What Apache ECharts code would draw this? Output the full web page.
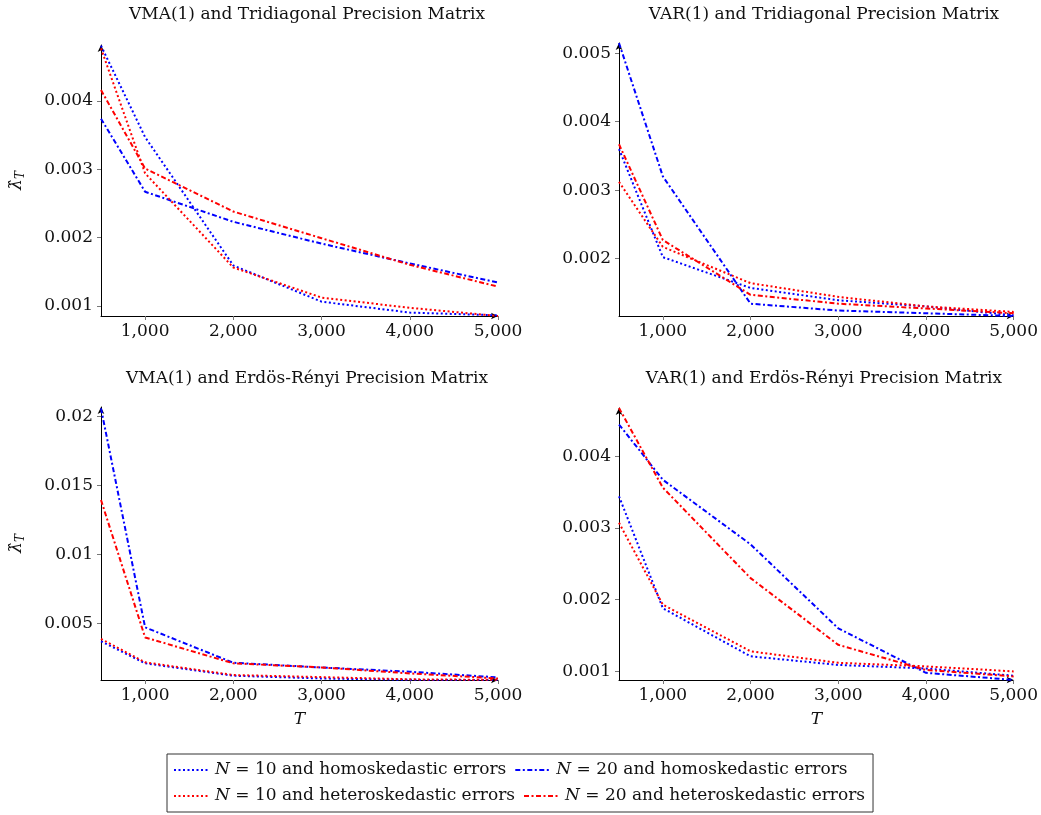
<!DOCTYPE html>
<html>
<head>
<meta charset="utf-8">
<script src="https://cdn.jsdelivr.net/npm/echarts@6/dist/echarts.min.js"></script>
<style>
html,body{margin:0;padding:0;background:#fff;}
#chart{width:1041px;height:815px;}
</style>
</head>
<body>
<div id="chart"></div>
<script>
// ---- data ----
const T = [500, 1000, 2000, 3000, 4000, 5000];
const xTicks = [1000, 2000, 3000, 4000, 5000];

const seriesNames = [
  'N = 10 and homoskedastic errors',
  'N = 20 and homoskedastic errors',
  'N = 10 and heteroskedastic errors',
  'N = 20 and heteroskedastic errors'
];

const panelTitles = [
  'VMA(1) and Tridiagonal Precision Matrix',
  'VAR(1) and Tridiagonal Precision Matrix',
  'VMA(1) and Erdös-Rényi Precision Matrix',
  'VAR(1) and Erdös-Rényi Precision Matrix'
];

// VMA(1), tridiagonal
const vmaTri_N10homo = [0.00481, 0.00347, 0.00159, 0.00106, 0.00090, 0.00086];
const vmaTri_N20homo = [0.00374, 0.00267, 0.00223, 0.00191, 0.00162, 0.00134];
const vmaTri_N10het  = [0.00477, 0.00294, 0.00156, 0.00112, 0.00097, 0.00085];
const vmaTri_N20het  = [0.00416, 0.00301, 0.00238, 0.00199, 0.00160, 0.00128];
// VAR(1), tridiagonal
const varTri_N10homo = [0.00360, 0.00202, 0.00157, 0.00139, 0.00130, 0.00117];
const varTri_N20homo = [0.00515, 0.00320, 0.00134, 0.00124, 0.00120, 0.00116];
const varTri_N10het  = [0.00312, 0.00217, 0.00164, 0.00144, 0.00130, 0.00122];
const varTri_N20het  = [0.00367, 0.00227, 0.00147, 0.00134, 0.00127, 0.00120];
// VMA(1), Erdös-Rényi
const vmaER_N10homo = [0.00370, 0.00210, 0.00120, 0.00100, 0.00090, 0.00089];
const vmaER_N20homo = [0.02060, 0.00471, 0.00214, 0.00180, 0.00149, 0.00108];
const vmaER_N10het  = [0.00387, 0.00217, 0.00125, 0.00110, 0.00094, 0.00090];
const vmaER_N20het  = [0.01395, 0.00398, 0.00210, 0.00180, 0.00137, 0.00100];
// VAR(1), Erdös-Rényi
const varER_N10homo = [0.00344, 0.00188, 0.00121, 0.00109, 0.00104, 0.00094];
const varER_N20homo = [0.00444, 0.00367, 0.00277, 0.00160, 0.00098, 0.00088];
const varER_N10het  = [0.00307, 0.00193, 0.00128, 0.00112, 0.00107, 0.00100];
const varER_N20het  = [0.00467, 0.00356, 0.00230, 0.00137, 0.00102, 0.00093];

const yTicksTL = [0.001, 0.002, 0.003, 0.004];
const yTicksTR = [0.002, 0.003, 0.004, 0.005];
const yTicksBL = [0.005, 0.01, 0.015, 0.02];
const yTicksBR = [0.001, 0.002, 0.003, 0.004];

const yRangeTL = [0.00085, 0.00482];
const yRangeTR = [0.00116, 0.00515];
const yRangeBL = [0.00089, 0.0207];
const yRangeBR = [0.00088, 0.00467];

// ---- chart ----
const FONT = 'DejaVu Serif';
const FS = 17;
const panels = [
  {data: [vmaTri_N10homo, vmaTri_N20homo, vmaTri_N10het, vmaTri_N20het], ticks: yTicksTL, range: yRangeTL,
   grid: {left: 101, top: 45, width: 397, height: 271}, ylab: true, xlab: false, title: [302, 1]},
  {data: [varTri_N10homo, varTri_N20homo, varTri_N10het, varTri_N20het], ticks: yTicksTR, range: yRangeTR,
   grid: {left: 619, top: 43, width: 397, height: 273}, ylab: false, xlab: false, title: [819, 1]},
  {data: [vmaER_N10homo, vmaER_N20homo, vmaER_N10het, vmaER_N20het], ticks: yTicksBL, range: yRangeBL,
   grid: {left: 101, top: 407, width: 397, height: 273}, ylab: true, xlab: true, title: [302, 365]},
  {data: [varER_N10homo, varER_N20homo, varER_N10het, varER_N20het], ticks: yTicksBR, range: yRangeBR,
   grid: {left: 619, top: 408, width: 397, height: 272}, ylab: false, xlab: true, title: [819, 365]}
];

const colors = ['#0000ff', '#0000ff', '#ff0000', '#ff0000'];
const dotted = [2, 2.5];
const dashdot = [5, 2.5, 2, 2.5];
const types = [dotted, dashdot, dotted, dashdot];

const grids = [], xAxes = [], yAxes = [], series = [], titles = [];
panels.forEach((p, i) => {
  grids.push(Object.assign({containLabel: false}, p.grid));
  titles.push({
    text: panelTitles[i], left: p.title[0], top: p.title[1], textAlign: 'center',
    textStyle: {fontFamily: FONT, fontWeight: 'normal', fontSize: FS, color: '#111'}
  });
  xAxes.push({
    type: 'value', gridIndex: i, min: 500, max: 5000,
    name: p.xlab ? 'T' : '', nameLocation: 'middle', nameGap: 31,
    nameTextStyle: {fontFamily: FONT, fontStyle: 'italic', fontSize: FS, color: '#111'},
    splitLine: {show: false},
    axisLine: {show: true, lineStyle: {color: '#000', width: 1}, symbol: ['none', 'arrow'], symbolSize: [5, 7]},
    axisTick: {show: true, length: 4, lineStyle: {color: '#777'}, customValues: xTicks},
    axisLabel: {fontFamily: FONT, fontSize: FS, color: '#111', margin: 7, customValues: xTicks,
      formatter: v => Number(v).toLocaleString('en-US')}
  });
  yAxes.push({
    type: 'value', gridIndex: i, min: p.range[0], max: p.range[1],
    name: p.ylab ? '{l|λ̂}{s|T}' : '', nameLocation: 'middle', nameGap: 74, nameRotate: 90,
    nameTextStyle: {fontFamily: FONT, fontSize: FS, color: '#111',
      rich: {l: {fontFamily: FONT, fontStyle: 'italic', fontSize: FS}, s: {fontFamily: FONT, fontStyle: 'italic', fontSize: 12, verticalAlign: 'bottom', padding: [8, 0, 0, 0]}}},
    splitLine: {show: false},
    axisLine: {show: true, lineStyle: {color: '#000', width: 1}, symbol: ['none', 'arrow'], symbolSize: [5, 7]},
    axisTick: {show: true, length: 4, lineStyle: {color: '#777'}, customValues: p.ticks},
    axisLabel: {fontFamily: FONT, fontSize: FS, color: '#111', margin: 8, customValues: p.ticks,
      formatter: v => String(+Number(v).toFixed(4))}
  });
  p.data.forEach((arr, k) => {
    series.push({
      name: seriesNames[k], type: 'line', xAxisIndex: i, yAxisIndex: i,
      data: T.map((t, j) => [t, arr[j]]),
      showSymbol: false, symbol: 'none', animation: false,
      lineStyle: {color: colors[k], width: 2, type: types[k]},
      itemStyle: {color: colors[k]}
    });
  });
});

const chart = echarts.init(document.getElementById('chart'), null, {renderer: 'canvas'});
chart.setOption({
  animation: false,
  backgroundColor: '#fff',
  title: titles,
  grid: grids,
  xAxis: xAxes,
  yAxis: yAxes,
  legend: {
    data: seriesNames,
    left: 167, top: 754, width: 710,
    padding: [6, 6, 6, 6],
    itemGap: 6, itemWidth: 36, itemHeight: 12,
    borderColor: '#333', borderWidth: 1,
    itemStyle: {opacity: 0},
    formatter: n => n.replace(/^N/, '{i|N}'),
    textStyle: {fontFamily: FONT, fontSize: FS, color: '#111', padding: [0, 2, 0, 0], lineHeight: 20,
      rich: {i: {fontFamily: FONT, fontStyle: 'italic', fontSize: FS, lineHeight: 20}}}
  },
  series: series
});
</script>
</body>
</html>
